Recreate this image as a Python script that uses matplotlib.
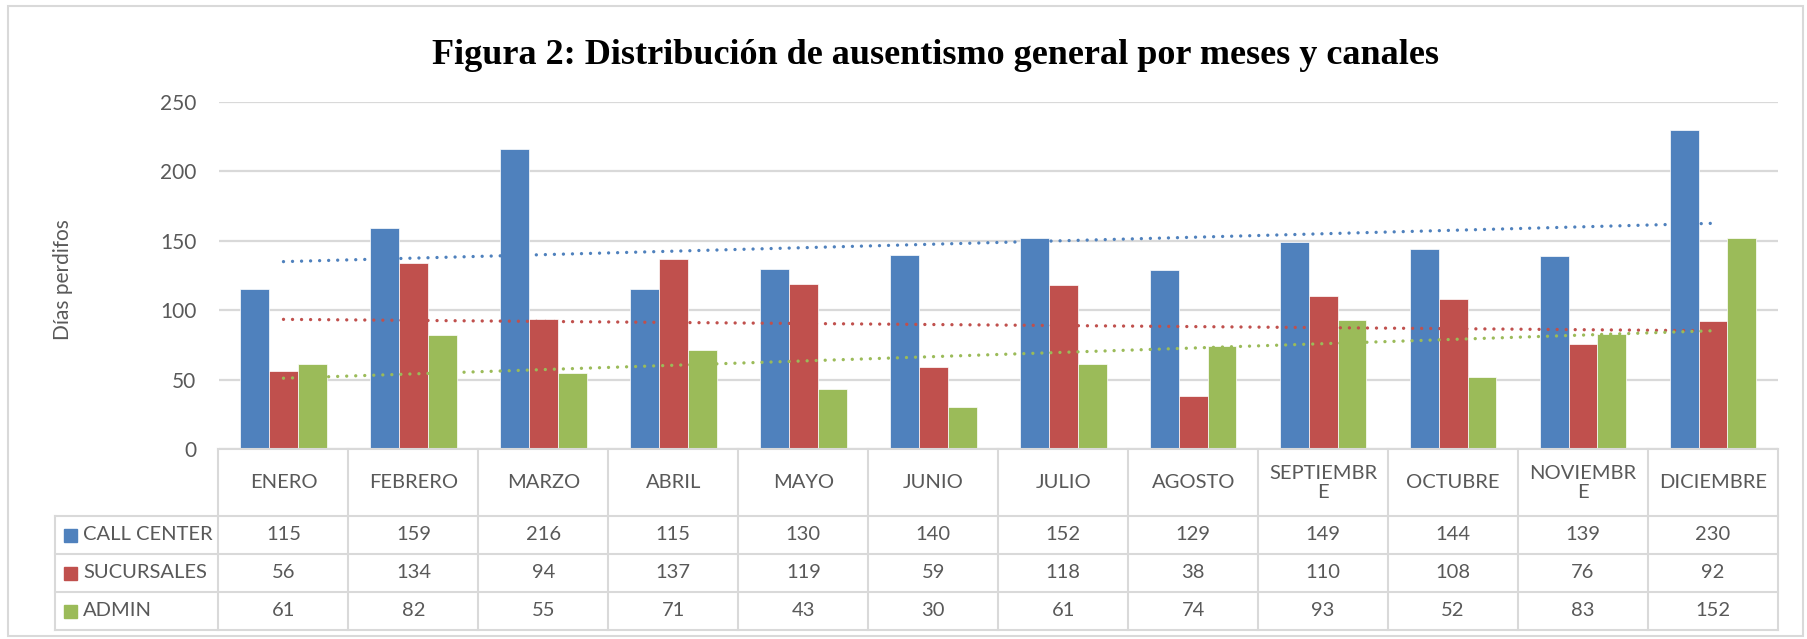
import numpy as np
import matplotlib
matplotlib.use("Agg")
import matplotlib.pyplot as plt
from matplotlib.patches import Rectangle
from matplotlib.transforms import blended_transform_factory

meses = ["ENERO", "FEBRERO", "MARZO", "ABRIL", "MAYO", "JUNIO", "JULIO",
         "AGOSTO", "SEPTIEMBR\nE", "OCTUBRE", "NOVIEMBR\nE", "DICIEMBRE"]
series_names = ["CALL CENTER", "SUCURSALES", "ADMIN"]
call_center = [115, 159, 216, 115, 130, 140, 152, 129, 149, 144, 139, 230]
sucursales = [56, 134, 94, 137, 119, 59, 118, 38, 110, 108, 76, 92]
admin = [61, 82, 55, 71, 43, 30, 61, 74, 93, 52, 83, 152]
# trend lines (value at ENERO, value at DICIEMBRE)
trend_start = [135, 93.4, 51]
trend_end = [162.6, 85.2, 85.2]
colors = ["#4F81BD", "#C0504D", "#9BBB59"]

W, H = 1807, 639
txt_color = "#595959"
grid_color = "#D9D9D9"
plt.rcParams['font.family'] = ['Lato', 'DejaVu Sans']

fig = plt.figure(figsize=(W / 100, H / 100), dpi=100)


def fy(py):
    # pixel row (from top) -> figure fraction
    return 1 - py / H


def fx(px):
    return px / W


ax_left, ax_right, ax_top, ax_bottom = 218.5, 1778, 102, 449
ax = fig.add_axes([fx(ax_left), fy(ax_bottom), fx(ax_right - ax_left), (ax_bottom - ax_top) / H])

x = np.arange(len(meses))
bw = 0.222
data = [call_center, sucursales, admin]
for i, (vals, c) in enumerate(zip(data, colors)):
    ax.bar(x + (i - 1) * bw, vals, bw, color=c, edgecolor="white", linewidth=0.5, zorder=2)

# linear trend lines
for y0, y1, c in zip(trend_start, trend_end, colors):
    ax.plot([x[0], x[-1]], [y0, y1], color=c, lw=2.4, linestyle=(0, (0.01, 2.7)),
            dash_capstyle="round", zorder=3)

ax.set_xlim(-0.5, len(meses) - 0.5)
ax.set_ylim(0, 250)
ax.set_yticks(range(0, 251, 50))
ax.set_xticks([])
ax.yaxis.grid(True, color=grid_color, lw=1.6)
ax.set_axisbelow(True)
for s in ax.spines.values():
    s.set_visible(False)
ax.tick_params(axis="y", length=0, pad=16, labelsize=15, labelcolor=txt_color)

fig.text(fx(63), fy(280), "Días perdifos", rotation=90, ha="center", va="center",
         fontsize=15, color=txt_color)

fig.text(fx(936), fy(55), "Figura 2: Distribución de ausentismo general por meses y canales",
         ha="center", va="center", fontsize=26, fontweight="bold",
         family="Liberation Serif", color="black")

# data table under the axes
tr = blended_transform_factory(ax.transData, fig.transFigure)
rows_y = [449, 516, 554, 592, 630]
lw_t = 1.5
ax.plot([-0.5, 11.5], [fy(rows_y[0])] * 2, color=grid_color, lw=lw_t, transform=tr, clip_on=False)
for yy in rows_y[1:]:
    fig.add_artist(plt.Line2D([fx(55), fx(ax_right)], [fy(yy)] * 2, color=grid_color, lw=lw_t))
for j in range(len(meses) + 1):
    ax.plot([j - 0.5, j - 0.5], [fy(449), fy(630)], color=grid_color, lw=lw_t,
            transform=tr, clip_on=False)
fig.add_artist(plt.Line2D([fx(55), fx(55)], [fy(516), fy(630)], color=grid_color, lw=lw_t))

for j, m in enumerate(meses):
    ax.text(j, fy(483), m, transform=tr, ha="center", va="center", fontsize=14.5,
            color=txt_color, linespacing=1.2)
for r, (name, vals, c) in enumerate(zip(series_names, data, colors)):
    yc = (rows_y[r + 1] + rows_y[r + 2]) / 2
    fig.add_artist(Rectangle((fx(64), fy(yc + 6.5)), fx(13), 13 / H, color=c))
    fig.text(fx(83), fy(yc), name, ha="left", va="center", fontsize=14.5, color=txt_color)
    for j, v in enumerate(vals):
        ax.text(j, fy(yc), str(v), transform=tr, ha="center", va="center",
                fontsize=14.5, color=txt_color)

# chart border
fig.add_artist(Rectangle((fx(8), fy(636)), fx(1795), (636 - 6) / H, fill=False,
                         edgecolor=grid_color, lw=1.5))

fig.savefig("out.png", dpi=100)
